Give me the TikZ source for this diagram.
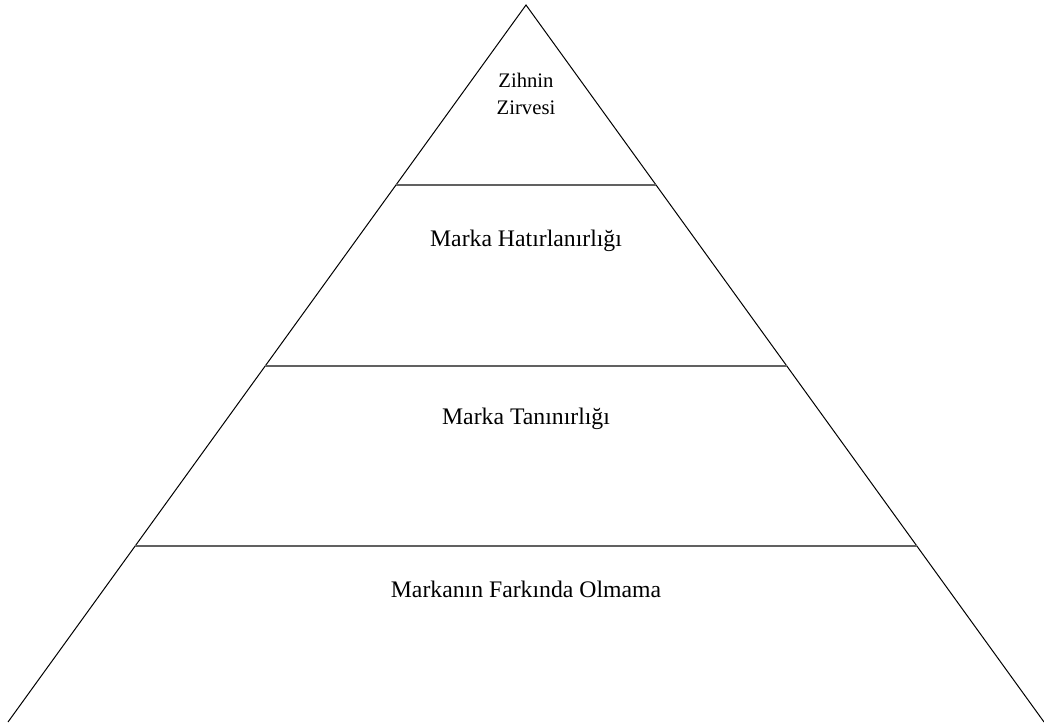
\documentclass[tikz,border=0pt]{standalone}
\usepackage{fontspec}
\setmainfont{Liberation Serif}
\usetikzlibrary{calc}

\begin{document}
\begin{tikzpicture}[x=0.75pt,y=-0.75pt,
		edge/.style={draw=black,line width=0.75pt},
		level/.style={draw=black!62,line width=1.7pt},
		label/.style={align=center,inner sep=0pt,font=\fontsize{17.8}{20}\selectfont}]
		\useasboundingbox (0,0) rectangle (1044,724);
		\coordinate (apex) at (526,5);
		\coordinate (left) at (8,722);
		\coordinate (right) at (1044,722);
		\draw[edge] (left) -- (apex) -- (right);
		% levels
		\foreach \name/\t in {one/0.2510,two/0.5035,three/0.7545}{
			\coordinate (\name-w) at ($(apex)!\t!(left)$);
			\coordinate (\name-e) at ($(apex)!\t!(right)$);
			\draw[level] (\name-w) -- (\name-e);
		}
		\node[label,font=\fontsize{15.5}{20}\selectfont] (top) at (526,94) {Zihnin\\Zirvesi};
		\node[label] (recall) at (526,241) {Marka Hatırlanırlığı};
		\node[label] (recog) at (526,419) {Marka Tanınırlığı};
		\node[label] (unaware) at (526,589) {Markanın Farkında Olmama};
\end{tikzpicture}
\end{document}
